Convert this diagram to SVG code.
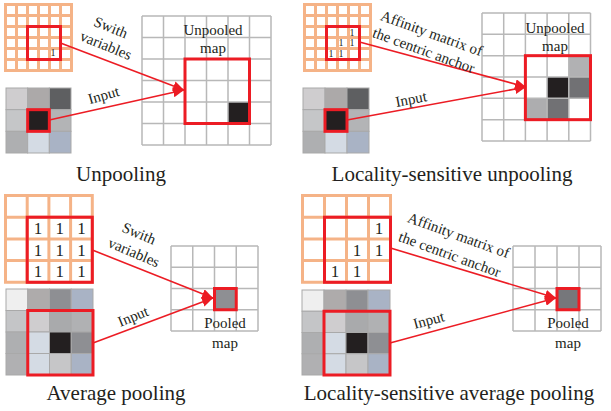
<svg xmlns="http://www.w3.org/2000/svg" width="611" height="411" viewBox="0 0 611 411">
<defs>
<style>
.og{fill:none;stroke:#f5b387;stroke-width:3;stroke-linecap:square}
.gg{fill:none;stroke:#b8b8b8;stroke-width:1.5}
.rb{fill:none;stroke:#ec1c24;stroke-width:3}
.cell{stroke:#a9a9a9;stroke-width:1}
.con{fill:none;stroke:#ec1c24;stroke-width:1.6}
text{font-family:"Liberation Serif","Times New Roman",serif;fill:#231f20}
.lbl{font-size:15px;text-anchor:middle}
.cap{font-size:21px;text-anchor:middle}
.one{font-size:17px;text-anchor:middle}
.one-s{font-size:10px;text-anchor:middle}
</style>
<marker id="ah" markerUnits="userSpaceOnUse" markerWidth="12" markerHeight="10" refX="11" refY="5" orient="auto">
<path d="M0,0 L11,5 L0,10 z" fill="#ec1c24"/>
</marker>
</defs>

<!-- Panel 1: Unpooling -->
<g id="p1-switch">
<path class="og" d="M5.5 4.5V70.5M16.5 4.5V70.5M27.5 4.5V70.5M38.5 4.5V70.5M49.5 4.5V70.5M60.5 4.5V70.5M71.5 4.5V70.5M5.5 4.5H71.5M5.5 15.5H71.5M5.5 26.5H71.5M5.5 37.5H71.5M5.5 48.5H71.5M5.5 59.5H71.5M5.5 70.5H71.5"/>
<rect class="rb" x="27.5" y="26.5" width="33" height="33"/>
<text class="one-s" x="53" y="56">1</text>
</g>
<g id="p1-input">
<rect class="cell" x="6" y="88" width="21.67" height="21.67" fill="#cfcdcf"/>
<rect class="cell" x="27.67" y="88" width="21.67" height="21.67" fill="#aca9a9"/>
<rect class="cell" x="49.33" y="88" width="21.67" height="21.67" fill="#5e5f61"/>
<rect class="cell" x="6" y="109.67" width="21.67" height="21.67" fill="#c5c6c8"/>
<rect class="cell" x="27.67" y="109.67" width="21.67" height="21.67" fill="#231f20"/>
<rect class="cell" x="49.33" y="109.67" width="21.67" height="21.67" fill="#b3b4b6"/>
<rect class="cell" x="6" y="131.33" width="21.67" height="21.67" fill="#aeafb1"/>
<rect class="cell" x="27.67" y="131.33" width="21.67" height="21.67" fill="#d4dbe4"/>
<rect class="cell" x="49.33" y="131.33" width="21.67" height="21.67" fill="#a9b3c5"/>
<rect class="rb" x="27.67" y="109.67" width="21.67" height="21.67"/>
</g>
<g id="p1-output">
<rect x="228" y="102" width="21.5" height="21.5" fill="#231f20"/>
<path class="gg" d="M142 16V145M163.5 16V145M185 16V145M206.5 16V145M228 16V145M249.5 16V145M271 16V145M142 16H271M142 37.5H271M142 59H271M142 80.5H271M142 102H271M142 123.5H271M142 145H271"/>
<rect class="rb" x="185" y="59" width="64.5" height="64.5"/>
<text class="lbl" x="213" y="35">Unpooled</text>
<text class="lbl" x="213" y="53">map</text>
</g>
<g id="p1-caption"><text class="cap" x="121" y="181">Unpooling</text></g>

<!-- Panel 2: Locality-sensitive unpooling -->
<g id="p2-affinity">
<path class="og" d="M304.5 4.5V70.5M315.5 4.5V70.5M326.5 4.5V70.5M337.5 4.5V70.5M348.5 4.5V70.5M359.5 4.5V70.5M370.5 4.5V70.5M304.5 4.5H370.5M304.5 15.5H370.5M304.5 26.5H370.5M304.5 37.5H370.5M304.5 48.5H370.5M304.5 59.5H370.5M304.5 70.5H370.5"/>
<rect class="rb" x="326.5" y="26.5" width="33" height="33"/>
<text class="one-s" x="352" y="35.5">1</text>
<text class="one-s" x="341" y="46">1</text>
<text class="one-s" x="352" y="46">1</text>
<text class="one-s" x="331" y="57">1</text>
<text class="one-s" x="341" y="57">1</text>
</g>
<g id="p2-input">
<rect class="cell" x="303" y="88" width="22" height="21.67" fill="#cfcdcf"/>
<rect class="cell" x="325" y="88" width="22" height="21.67" fill="#aca9a9"/>
<rect class="cell" x="347" y="88" width="22" height="21.67" fill="#5e5f61"/>
<rect class="cell" x="303" y="109.67" width="22" height="21.67" fill="#c5c6c8"/>
<rect class="cell" x="325" y="109.67" width="22" height="21.67" fill="#231f20"/>
<rect class="cell" x="347" y="109.67" width="22" height="21.67" fill="#b3b4b6"/>
<rect class="cell" x="303" y="131.33" width="22" height="21.67" fill="#aeafb1"/>
<rect class="cell" x="325" y="131.33" width="22" height="21.67" fill="#d4dbe4"/>
<rect class="cell" x="347" y="131.33" width="22" height="21.67" fill="#a9b3c5"/>
<rect class="rb" x="325" y="109.67" width="22" height="21.67"/>
</g>
<g id="p2-output">
<rect x="568.8" y="55.67" width="21.7" height="21.33" fill="#b1b1b3"/>
<rect x="547.1" y="77" width="21.7" height="21.33" fill="#231f20"/>
<rect x="568.8" y="77" width="21.7" height="21.33" fill="#717174"/>
<rect x="525.4" y="98.33" width="21.7" height="21.33" fill="#adadaf"/>
<rect x="547.1" y="98.33" width="21.7" height="21.33" fill="#717174"/>
<path class="gg" d="M482 13V141M503.7 13V141M525.4 13V141M547.1 13V141M568.8 13V141M590.5 13V141M482 13H590.5M482 34.33H590.5M482 55.67H590.5M482 77H590.5M482 98.33H590.5M482 119.67H590.5M482 141H590.5"/>
<rect class="rb" x="525.4" y="55.67" width="65.1" height="64"/>
<text class="lbl" x="555" y="33">Unpooled</text>
<text class="lbl" x="555" y="51">map</text>
</g>
<g id="p2-caption"><text class="cap" x="452" y="181">Locality-sensitive unpooling</text></g>

<!-- Panel 3: Average pooling -->
<g id="p3-switch">
<path class="og" d="M5.5 195.5V282.3M27.2 195.5V282.3M48.9 195.5V282.3M70.6 195.5V282.3M92.3 195.5V282.3M5.5 195.5H92.3M5.5 217.2H92.3M5.5 238.9H92.3M5.5 260.6H92.3M5.5 282.3H92.3"/>
<rect class="rb" x="27.2" y="217.2" width="65.1" height="65.1"/>
<text class="one" x="38" y="234">1</text><text class="one" x="59.7" y="234">1</text><text class="one" x="81.4" y="234">1</text>
<text class="one" x="38" y="255.7">1</text><text class="one" x="59.7" y="255.7">1</text><text class="one" x="81.4" y="255.7">1</text>
<text class="one" x="38" y="277.4">1</text><text class="one" x="59.7" y="277.4">1</text><text class="one" x="81.4" y="277.4">1</text>
</g>
<g id="p3-input">
<rect class="cell" x="6" y="289" width="21.75" height="21.5" fill="#efefef"/>
<rect class="cell" x="27.75" y="289" width="21.75" height="21.5" fill="#aeabab"/>
<rect class="cell" x="49.5" y="289" width="21.75" height="21.5" fill="#8e8f93"/>
<rect class="cell" x="71.25" y="289" width="21.75" height="21.5" fill="#a9b3c5"/>
<rect class="cell" x="6" y="310.5" width="21.75" height="21.5" fill="#c4c5c7"/>
<rect class="cell" x="27.75" y="310.5" width="21.75" height="21.5" fill="#cfcdcf"/>
<rect class="cell" x="49.5" y="310.5" width="21.75" height="21.5" fill="#a9aaac"/>
<rect class="cell" x="71.25" y="310.5" width="21.75" height="21.5" fill="#b0b1b3"/>
<rect class="cell" x="6" y="332" width="21.75" height="21.5" fill="#aeafb1"/>
<rect class="cell" x="27.75" y="332" width="21.75" height="21.5" fill="#d4dbe4"/>
<rect class="cell" x="49.5" y="332" width="21.75" height="21.5" fill="#231f20"/>
<rect class="cell" x="71.25" y="332" width="21.75" height="21.5" fill="#8e8f93"/>
<rect class="cell" x="6" y="353.5" width="21.75" height="21.5" fill="#b0b0b2"/>
<rect class="cell" x="27.75" y="353.5" width="21.75" height="21.5" fill="#d4dbe4"/>
<rect class="cell" x="49.5" y="353.5" width="21.75" height="21.5" fill="#c6c6c8"/>
<rect class="cell" x="71.25" y="353.5" width="21.75" height="21.5" fill="#a9b3c5"/>
<rect class="rb" x="27.75" y="310.5" width="65.25" height="64.5"/>
</g>
<g id="p3-output">
<rect x="214.5" y="288.5" width="21.75" height="21.25" fill="#8e8f93"/>
<path class="gg" d="M171 246V331M192.75 246V331M214.5 246V331M236.25 246V331M258 246V331M171 246H258M171 267.25H258M171 288.5H258M171 309.75H258M171 331H258"/>
<rect class="rb" x="214.5" y="288.5" width="21.75" height="21.25"/>
<text class="lbl" x="225" y="328">Pooled</text>
<text class="lbl" x="225" y="348">map</text>
</g>
<g id="p3-caption"><text class="cap" x="116" y="400">Average pooling</text></g>

<!-- Panel 4: Locality-sensitive average pooling -->
<g id="p4-affinity">
<path class="og" d="M302.5 195.5V282.3M324.5 195.5V282.3M346.5 195.5V282.3M368.5 195.5V282.3M390.5 195.5V282.3M302.5 195.5H390.5M302.5 217.2H390.5M302.5 238.9H390.5M302.5 260.6H390.5M302.5 282.3H390.5"/>
<rect class="rb" x="324.5" y="217.2" width="66" height="65.1"/>
<text class="one" x="379" y="234">1</text>
<text class="one" x="357" y="255.7">1</text><text class="one" x="379" y="255.7">1</text>
<text class="one" x="335" y="277.4">1</text><text class="one" x="357" y="277.4">1</text>
</g>
<g id="p4-input">
<rect class="cell" x="302" y="290" width="22" height="21.25" fill="#efefef"/>
<rect class="cell" x="324" y="290" width="22" height="21.25" fill="#aeabab"/>
<rect class="cell" x="346" y="290" width="22" height="21.25" fill="#8e8f93"/>
<rect class="cell" x="368" y="290" width="22" height="21.25" fill="#a9b3c5"/>
<rect class="cell" x="302" y="311.25" width="22" height="21.25" fill="#c4c5c7"/>
<rect class="cell" x="324" y="311.25" width="22" height="21.25" fill="#cfcdcf"/>
<rect class="cell" x="346" y="311.25" width="22" height="21.25" fill="#a9aaac"/>
<rect class="cell" x="368" y="311.25" width="22" height="21.25" fill="#b0b1b3"/>
<rect class="cell" x="302" y="332.5" width="22" height="21.25" fill="#aeafb1"/>
<rect class="cell" x="324" y="332.5" width="22" height="21.25" fill="#d4dbe4"/>
<rect class="cell" x="346" y="332.5" width="22" height="21.25" fill="#231f20"/>
<rect class="cell" x="368" y="332.5" width="22" height="21.25" fill="#8e8f93"/>
<rect class="cell" x="302" y="353.75" width="22" height="21.25" fill="#b0b0b2"/>
<rect class="cell" x="324" y="353.75" width="22" height="21.25" fill="#d4dbe4"/>
<rect class="cell" x="346" y="353.75" width="22" height="21.25" fill="#c6c6c8"/>
<rect class="cell" x="368" y="353.75" width="22" height="21.25" fill="#a9b3c5"/>
<rect class="rb" x="324" y="311.25" width="66" height="63.75"/>
</g>
<g id="p4-output">
<rect x="557" y="288.5" width="22" height="21.25" fill="#76777b"/>
<path class="gg" d="M513 246V331M535 246V331M557 246V331M579 246V331M601 246V331M513 246H601M513 267.25H601M513 288.5H601M513 309.75H601M513 331H601"/>
<rect class="rb" x="557" y="288.5" width="22" height="21.25"/>
<text class="lbl" x="568" y="328">Pooled</text>
<text class="lbl" x="568" y="348">map</text>
</g>
<g id="p4-caption"><text class="cap" x="449" y="400">Locality-sensitive average pooling</text></g>

<!-- Connectors -->
<g id="connectors">
<path class="con" d="M60.5 43L184 90" marker-end="url(#ah)"/>
<path class="con" d="M49.3 120L184 90" marker-end="url(#ah)"/>
<path class="con" d="M359.5 42L526 87" marker-end="url(#ah)"/>
<path class="con" d="M347 120L526 87" marker-end="url(#ah)"/>
<path class="con" d="M92.3 250L213 298" marker-end="url(#ah)"/>
<path class="con" d="M93 343L213 298" marker-end="url(#ah)"/>
<path class="con" d="M390.5 248L556 298" marker-end="url(#ah)"/>
<path class="con" d="M390 343L556 298" marker-end="url(#ah)"/>
</g>

<!-- Connector labels -->
<g id="labels">
<text class="lbl" transform="translate(109,32) rotate(22)">Swith</text>
<text class="lbl" transform="translate(104,50) rotate(22)">variables</text>
<text class="lbl" transform="translate(105,100) rotate(-16)">Input</text>
<text class="lbl" transform="translate(430,38) rotate(20)">Affinity matrix of</text>
<text class="lbl" transform="translate(422,55) rotate(20)">the centric anchor</text>
<text class="lbl" transform="translate(412,104) rotate(-11)">Input</text>
<text class="lbl" transform="translate(137,238) rotate(23)">Swith</text>
<text class="lbl" transform="translate(132,257) rotate(23)">variables</text>
<text class="lbl" transform="translate(135,321) rotate(-22)">Input</text>
<text class="lbl" transform="translate(457,240) rotate(20)">Affinity matrix of</text>
<text class="lbl" transform="translate(448,259) rotate(20)">the centric anchor</text>
<text class="lbl" transform="translate(430,325) rotate(-15)">Input</text>
</g>
</svg>
